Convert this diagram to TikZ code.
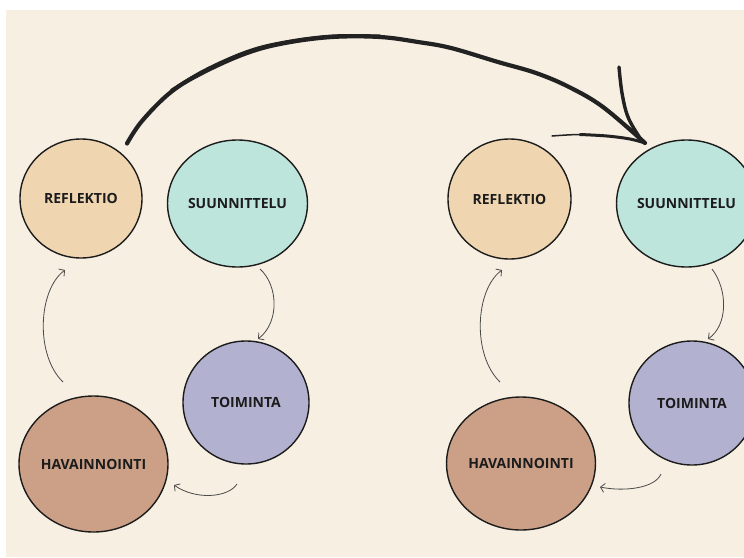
\documentclass[tikz,border=0pt]{standalone}
\usepackage{fontspec}
\setmainfont{Open Sans}
\usetikzlibrary{shapes.geometric,arrows.meta,calc}
\definecolor{cream}{HTML}{F7EFE2}
\definecolor{crefl}{HTML}{F0D6B0}
\definecolor{csuun}{HTML}{BDE5DC}
\definecolor{ctoim}{HTML}{B2B2D0}
\definecolor{chav}{HTML}{CBA086}
\definecolor{ink}{HTML}{1C1C1C}
\definecolor{thin}{HTML}{4A4A4A}
\definecolor{sketch}{HTML}{222222}
\begin{document}
\begin{tikzpicture}[x=1pt,y=-1pt,
  phase/.style={ellipse,draw=ink,line width=1.4pt,inner sep=0pt,
    font=\fontsize{14}{16}\selectfont\bfseries,text=ink},
  cyc/.style={draw=thin,line width=0.8pt,-{Straight Barb[length=4pt,width=9pt]}},
  bigline/.style={draw=sketch,line cap=round,line join=round}]
\useasboundingbox (0,0) rectangle (744,557);
\fill[white] (0,0) rectangle (744,557);
\fill[cream] (6,9.5) rectangle (744,557);
% left cycle
\node[phase,fill=crefl,minimum width=122pt,minimum height=119pt] (r1) at (81,198.5) {REFLEKTIO};
\node[phase,fill=csuun,minimum width=137pt,minimum height=127pt] (s1) at (237.5,203.5) {SUUNNITTELU};
\node[phase,fill=ctoim,minimum width=126pt,minimum height=123pt] (t1) at (246,402.5) {TOIMINTA};
\node[phase,fill=chav,minimum width=149pt,minimum height=136pt] (h1) at (93.5,464) {HAVAINNOINTI};
% right cycle
\node[phase,fill=crefl,minimum width=123pt,minimum height=120pt] (r2) at (509.5,199) {REFLEKTIO};
\node[phase,fill=csuun,minimum width=137pt,minimum height=127pt] (s2) at (686.5,203.5) {SUUNNITTELU};
\node[phase,fill=ctoim,minimum width=126pt,minimum height=124pt] (t2) at (692,403) {TOIMINTA};
\node[phase,fill=chav,minimum width=146pt,minimum height=133pt] (h2) at (521,463.5) {HAVAINNOINTI};
% small cycle arrows, left
\draw[cyc] ($(s1.center)+(22.5,65.5)$) .. controls ($(s1.center)+(40.5,81.5)$) and ($(t1.center)+(34,-80.5)$) .. ($(t1.center)+(12,-63.5)$);
\draw[cyc] ($(t1.center)+(-9,81.5)$) .. controls ($(t1.center)+(-18,95.5)$) and ($(h1.center)+(101.5,36)$) .. ($(h1.center)+(80.5,21)$);
\draw[cyc] ($(h1.center)+(-30.5,-82)$) .. controls ($(h1.center)+(-58.5,-109)$) and ($(r1.center)+(-43,91.5)$) .. ($(r1.center)+(-16,71.5)$);
% small cycle arrows, right
\draw[cyc] ($(s2.center)+(25.5,65.5)$) .. controls ($(s2.center)+(41.5,86.5)$) and ($(t2.center)+(36,-78)$) .. ($(t2.center)+(16,-64)$);
\draw[cyc] ($(t2.center)+(-31,71)$) .. controls ($(t2.center)+(-37,85)$) and ($(h2.center)+(104,28.5)$) .. ($(h2.center)+(79,23.5)$);
\draw[cyc] ($(h2.center)+(-21,-81.5)$) .. controls ($(h2.center)+(-49,-108.5)$) and ($(r2.center)+(-34.5,91)$) .. ($(r2.center)+(-7.5,71)$);
% big sketched arrow from left REFLEKTIO to right SUUNNITTELU
\coordinate (bigA) at ($(r1.center)+(46,-55)$);
\coordinate (bigB) at ($(s2.center)+(-41.5,-60.5)$);
\coordinate (barbU) at ($(s2.center)+(-67.5,-136.5)$);
\coordinate (barbL) at ($(s2.center)+(-134.5,-67.5)$);
\draw[bigline,line width=4.2pt] plot[smooth,tension=0.6] coordinates {(bigA) (142,121) (171,92) (204,72) (247,53) (285,43) (332,37) (380,37) (418,42) (451,48) (498,62) (536,73) (569,87) (603,107) (bigB)};
\draw[bigline,line width=2pt] plot[smooth,tension=0.6] coordinates {(171,90) (204,70) (247,51) (285,41.5) (332,35.5) (380,35.5)};
\draw[bigline,line width=3.4pt] plot[smooth,tension=0.6] coordinates {(barbU) (622,93) (628,117) (640,138) (bigB)};
\draw[bigline,line width=1.5pt] plot[smooth,tension=0.6] coordinates {(barbL) (580,134.5) (607,136)};
\draw[bigline,line width=3pt] plot[smooth,tension=0.6] coordinates {(580,134.5) (607,136) (630,139) (bigB)};
\end{tikzpicture}
\end{document}
